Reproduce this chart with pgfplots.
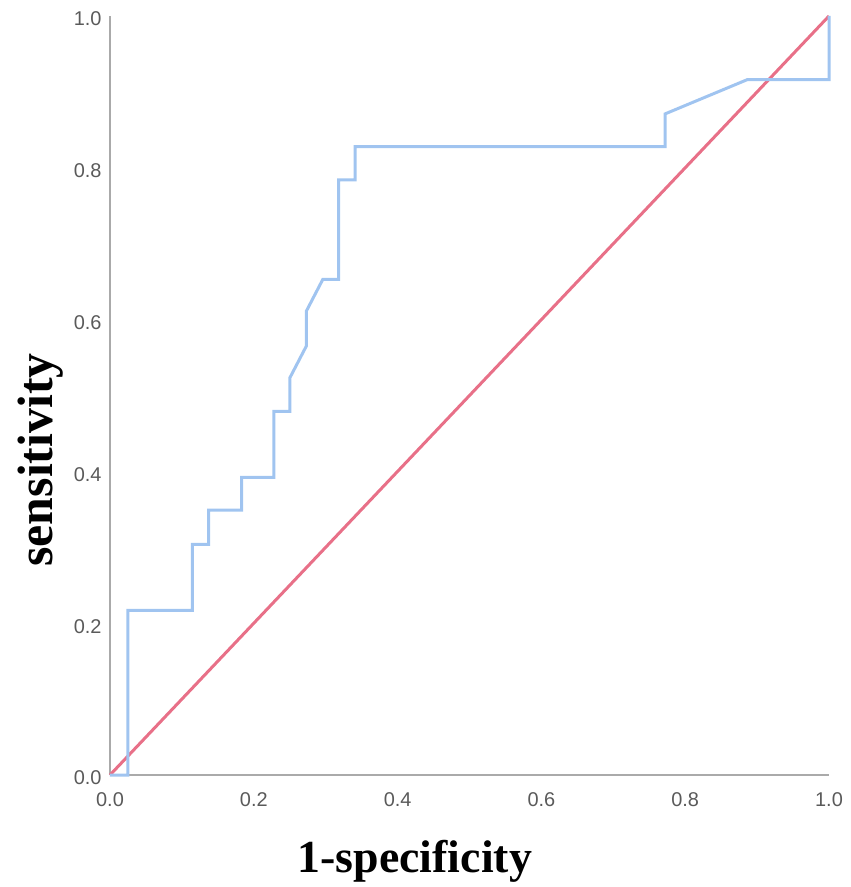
\documentclass[border=0pt]{standalone}
\usepackage{pgfplots}
\pgfplotsset{compat=1.18}
\usepackage{fontspec}
\setmainfont{Liberation Serif}
\newfontfamily\arial{Liberation Sans}
\definecolor{roc}{RGB}{160,196,240}
\definecolor{refl}{RGB}{232,112,136}
\definecolor{axgray}{RGB}{170,170,170}
\definecolor{tickgray}{RGB}{90,90,90}
\begin{document}
\begin{tikzpicture}
\path[use as bounding box] (-110bp,-112bp) rectangle (741bp,775bp);
\begin{axis}[
  at={(0,0)}, anchor=origin,
  scale only axis, width=719bp, height=759bp,
  xmin=0, xmax=1, ymin=0, ymax=1,
  axis x line*=bottom, axis y line*=left,
  axis line style={-, axgray, line width=1.8bp},
  major tick length=0pt,
  xtick={0,0.2,0.4,0.6,0.8,1}, ytick={0,0.2,0.4,0.6,0.8,1},
  ticklabel style={font=\arial\fontsize{20}{24}\selectfont, text=tickgray},
  xticklabel style={yshift=-14bp},
  yticklabel style={xshift=-5bp, yshift=-3bp},
  /pgf/number format/assume math mode=true,
  /pgf/number format/fixed, /pgf/number format/fixed zerofill,
  /pgf/number format/precision=1,
  clip=false,
]
\addplot[refl, line width=3bp] coordinates {(0,0) (1,1)};
\addplot[roc, line width=3bp] coordinates {
(0,0) (0.025,0) (0.025,0.217) (0.1145,0.217) (0.1145,0.304)
(0.137,0.304) (0.137,0.349) (0.183,0.349) (0.183,0.392)
(0.228,0.392) (0.228,0.479) (0.250,0.479) (0.250,0.523)
(0.273,0.565) (0.273,0.611) (0.296,0.653) (0.318,0.653)
(0.318,0.784) (0.341,0.784) (0.341,0.828) (0.772,0.828)
(0.772,0.871) (0.886,0.916) (1,0.916) (1,1)};
\node[font=\bfseries\fontsize{46}{55}\selectfont, anchor=base] at (axis cs:0.424,-0.1278) {1-specificity};
\node[font=\bfseries\fontsize{50}{60}\selectfont, anchor=base, rotate=90] at (axis cs:-0.0793,0.415) {sensitivity};
\end{axis}
\end{tikzpicture}
\end{document}
